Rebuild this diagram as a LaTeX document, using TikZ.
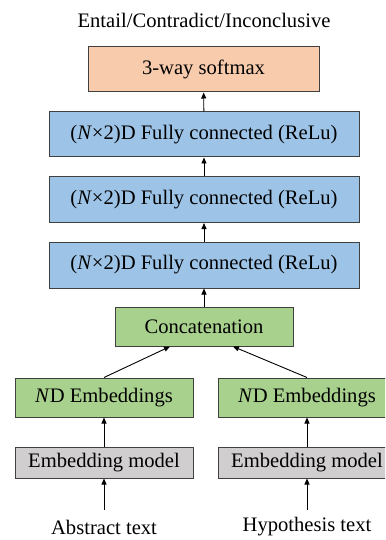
\documentclass[tikz,border=0pt]{standalone}
\usepackage{fontspec}
\setmainfont{Liberation Serif}
\usetikzlibrary{arrows.meta}
\definecolor{peach}{HTML}{F8CBAD}
\definecolor{fcblue}{HTML}{9DC3E6}
\definecolor{embgreen}{HTML}{A9D18E}
\definecolor{modgrey}{HTML}{D0CECE}
\definecolor{edge}{HTML}{404040}
\tikzset{
  layer/.style={draw=edge, line width=1pt, minimum height=45pt, inner sep=0pt, font=\fontsize{20.6}{24}\selectfont},
  lbl/.style={inner sep=2pt, font=\fontsize{20.6}{24}\selectfont},
  flow/.style={-{Triangle[length=6pt,width=5pt]}, line width=0.9pt, draw=black}
}
\begin{document}
\begin{tikzpicture}[x=1pt,y=-1pt]
  \useasboundingbox (0,0) rectangle (385,540);
  \begin{scope}
  \clip (0,0) rectangle (385,540);
  % output label
  \node[lbl] (out) at (204,20) {Entail/Contradict/Inconclusive};
  % classifier head
  \node[layer, fill=peach, minimum width=231pt] (soft) at (203.5,69.5) {3-way softmax};
  \node[layer, fill=fcblue, minimum width=310pt] (fc1) at (204,134.5) {(\textit{N}×2)D Fully connected (ReLu)};
  \node[layer, fill=fcblue, minimum width=310pt, minimum height=46pt] (fc2) at (204,199.5) {(\textit{N}×2)D Fully connected (ReLu)};
  \node[layer, fill=fcblue, minimum width=310pt, minimum height=46pt] (fc3) at (204,265) {(\textit{N}×2)D Fully connected (ReLu)};
  \node[layer, fill=embgreen, minimum width=178pt, minimum height=39pt] (cat) at (204,326.5) {Concatenation};
  % two embedding branches
  \node[layer, fill=embgreen, minimum width=178pt, minimum height=39pt] (ndL) at (104,397.5) {\textit{N}D Embeddings};
  \node[layer, fill=embgreen, minimum width=178pt, minimum height=39pt] (ndR) at (307,397.5) {\textit{N}D Embeddings};
  \node[layer, fill=modgrey, minimum width=178pt, minimum height=31pt] (modL) at (104,462.5) {Embedding model};
  \node[layer, fill=modgrey, minimum width=178pt, minimum height=31pt] (modR) at (307,462.5) {Embedding model};
  \node[lbl] (txtL) at (104,527) {Abstract text};
  \node[lbl] (txtR) at (307,527) {Hypothesis text};
  % connectors
  \coordinate (inL) at (104,510);
  \coordinate (inR) at (307,510);
  \draw[flow] (inL) -- (modL.south);
  \draw[flow] (inR) -- (modR.south);
  \draw[flow] (modL) -- (ndL);
  \draw[flow] (modR) -- (ndR);
  \draw[flow] (ndL.north) -- ([xshift=-34pt]cat.south);
  \draw[flow] (ndR.north) -- ([xshift=29pt]cat.south);
  \draw[flow] (cat) -- (fc3);
  \draw[flow] (fc3) -- (fc2);
  \draw[flow] (fc2) -- (fc1);
  \draw[flow] (fc1) -- (soft);
  \end{scope}
\end{tikzpicture}
\end{document}
